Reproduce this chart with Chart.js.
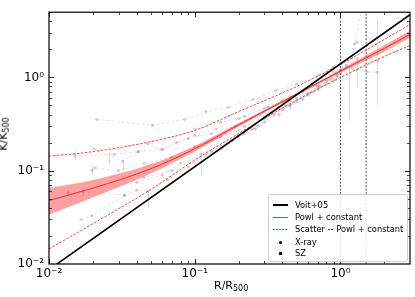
<!DOCTYPE html>
<html>
<head>
<meta charset="utf-8">
<script src="https://cdn.jsdelivr.net/npm/chart.js@4"></script>
<style>
  body { margin: 0; background: #fff; font-family: "DejaVu Sans", sans-serif; }
  #wrap { position: relative; width: 415px; height: 297px; }
  #chart { position: absolute; left: 0; top: 0; }
  .ttl { position: absolute; font-size: 11px; color: #000; white-space: nowrap; }
  .ttl sub { font-size: 8px; vertical-align: -2px; }
  #ytitle { left: -13px; top: 127px; transform: rotate(-90deg); }
  #xtitle { left: 214px; top: 279px; }
  #legend { position: absolute; left: 268px; top: 194px; width: 138px; height: 66px;
            border: 1px solid #d0d0d0; border-radius: 3px; background: rgba(255,255,255,0.85);
            font-size: 8.3px; }
  .row { position: absolute; left: 0; height: 12px; width: 100%; }
  .row span.txt { position: absolute; left: 26px; top: 1px; }
  .sample { position: absolute; left: 4px; top: 6px; width: 15px; height: 1px; }
  .mk { position: absolute; }
</style>
</head>
<body>
<div id="wrap">
  <canvas id="chart" width="415" height="297"></canvas>
  <div class="ttl" id="ytitle">K/K<sub>500</sub></div>
  <div class="ttl" id="xtitle">R/R<sub>500</sub></div>
  <div id="legend">
    <div class="row" style="top:4px"><div class="sample" style="height:2px;background:#000;top:5px"></div><span class="txt">Voit+05</span></div>
    <div class="row" style="top:16px"><div class="sample" style="background:#ff2a2a"></div><span class="txt">Powl + constant</span></div>
    <div class="row" style="top:28px"><div class="sample" style="background:repeating-linear-gradient(90deg,#ff2a2a 0 2px,transparent 2px 3px)"></div><span class="txt">Scatter -- Powl + constant</span></div>
    <div class="row" style="top:41px"><div class="mk" style="left:10px;top:5px;width:3px;height:3px;border-radius:50%;background:#000"></div><span class="txt">X-ray</span></div>
    <div class="row" style="top:52px"><div class="mk" style="left:10px;top:5px;width:3px;height:3px;background:#000"></div><span class="txt">SZ</span></div>
  </div>
</div>
<script>
// ── Axis ticks ────────────────────────────────────────────────────────────
const xMajor = [0.01, 0.1, 1];
const xMinor = [0.02,0.03,0.04,0.05,0.06,0.07,0.08,0.09,0.2,0.3,0.4,0.5,0.6,0.7,0.8,0.9,2,3];
const yMajor = [0.01, 0.1, 1];
const yMinor = [0.02,0.03,0.04,0.05,0.06,0.07,0.08,0.09,0.2,0.3,0.4,0.5,0.6,0.7,0.8,0.9,2,3,4,5];
const tickText = { 0.01: '10⁻²', 0.1: '10⁻¹', 1: '10⁰' };

// ── Model curves ──────────────────────────────────────────────────────────
const fitX      = [0.01, 0.02, 0.05, 0.1, 0.2, 0.5, 1, 2, 3];
const fitMid    = [0.048, 0.065, 0.105, 0.172, 0.31, 0.66, 1.17, 2.05, 2.9];
const fitBandLo = [0.034, 0.052, 0.094, 0.162, 0.298, 0.645, 1.13, 1.9, 2.68];
const fitBandHi = [0.065, 0.079, 0.117, 0.183, 0.322, 0.675, 1.21, 2.2, 3.15];
const scatHi    = [0.143, 0.16, 0.205, 0.27, 0.43, 0.8, 1.38, 2.55, 3.7];
const scatLo    = [0.0145, 0.027, 0.063, 0.13, 0.25, 0.57, 1.0, 1.68, 2.2];
const voitX = [0.01, 3];
const voitY = [0.0087, 4.7];
const vlineX = [1, 1.5];

// ── Individual cluster profiles (grey) ────────────────────────────────────
const profiles = [
  { kind: 'xray', x: [0.0213,0.0515,0.0855,0.119,0.17,0.25,0.36,0.5,0.7,0.9],
    y: [0.355,0.307,0.355,0.43,0.48,0.58,0.72,0.85,1.05,1.3] },
  { kind: 'xray', x: [0.015,0.028,0.041,0.0476,0.0595,0.075,0.1,0.14,0.2,0.3,0.45,0.65,0.9],
    y: [0.146,0.15,0.16,0.194,0.168,0.2,0.24,0.28,0.36,0.47,0.62,0.85,1.15] },
  { kind: 'xray', x: [0.0203,0.032,0.041,0.06,0.09,0.13,0.19,0.28,0.4,0.55,0.8,1.0],
    y: [0.172,0.126,0.16,0.17,0.22,0.25,0.3,0.4,0.55,0.7,0.95,1.2] },
  { kind: 'xray', x: [0.0197,0.0207,0.03,0.045,0.07,0.1,0.15,0.22,0.33,0.5,0.72,0.95],
    y: [0.101,0.107,0.1,0.12,0.14,0.18,0.23,0.3,0.42,0.6,0.8,1.05] },
  { kind: 'xray', x: [0.0135,0.017,0.033,0.045,0.07,0.11,0.17,0.26,0.38,0.55,0.8],
    y: [0.058,0.0595,0.055,0.085,0.1,0.15,0.2,0.28,0.4,0.58,0.85] },
  { kind: 'xray', x: [0.0166,0.0197,0.033,0.04,0.0476,0.065,0.09,0.13,0.2,0.3,0.45,0.7,1.0,1.3],
    y: [0.030,0.033,0.054,0.062,0.06,0.08,0.11,0.16,0.24,0.33,0.5,0.8,1.1,1.6] },
  { kind: 'xray', x: [0.04,0.06,0.08,0.12,0.18,0.27,0.4,0.6,0.85,1.1,1.3],
    y: [0.075,0.09,0.12,0.15,0.21,0.3,0.45,0.65,0.95,1.3,2.4] },
  { kind: 'xray', x: [0.1,0.15,0.22,0.32,0.47,0.68,0.95,1.2,1.52,1.79],
    y: [0.28,0.33,0.38,0.48,0.62,0.82,1.05,1.25,1.15,1.13] },
  { kind: 'sz', x: [0.12,0.2,0.3,0.45,0.65,0.9,1.3,1.8,2.4],
    y: [0.2,0.27,0.38,0.5,0.7,0.9,1.2,1.5,1.9] },
  { kind: 'xray', x: [0.25,0.35,0.5,0.7,0.9,1.1,1.25,1.4],
    y: [0.28,0.4,0.55,0.75,0.95,1.35,2.3,5.5] },
  { kind: 'xray', x: [0.15,0.22,0.3,0.42,0.6,0.8,1.0,1.2],
    y: [0.17,0.25,0.36,0.5,0.68,0.9,1.2,1.6] },
];

// ── Error bars (x, low, high) ─────────────────────────────────────────────
const errX  = [0.015, 0.0197, 0.0135, 0.017, 0.0476, 0.026, 0.032, 0.11, 0.45, 0.7, 1.15, 1.3, 1.79];
const errLo = [0.13, 0.09, 0.054, 0.054, 0.04, 0.12, 0.1, 0.09, 0.45, 0.7, 0.34, 0.8, 0.51];
const errHi = [0.165, 0.114, 0.062, 0.066, 0.063, 0.16, 0.135, 0.16, 0.6, 0.9, 1.33, 1.6, 4.1];

const RED = '#ff2a2a';
const GREY_PT = 'rgba(135,135,135,0.35)';
const GREY_LN = 'rgba(150,150,150,0.3)';

const xy = (xs, ys) => xs.map((x, i) => ({ x, y: ys[i] }));
const smooth = { cubicInterpolationMode: 'monotone', pointRadius: 0 };

const datasets = [
  { data: xy(voitX, voitY), borderColor: '#000', borderWidth: 1.6, pointRadius: 0, order: 0 },
  { data: xy(fitX, fitMid), borderColor: RED, borderWidth: 1, ...smooth, order: 1 },
  { data: xy(fitX, scatHi), borderColor: RED, borderWidth: 0.9, borderDash: [2.5, 1.5], ...smooth, order: 1 },
  { data: xy(fitX, scatLo), borderColor: RED, borderWidth: 0.9, borderDash: [2.5, 1.5], ...smooth, order: 1 },
  { data: xy(fitX, fitBandHi), borderColor: 'rgba(255,60,60,0.25)', borderWidth: 0.5, ...smooth, order: 2 },
  { data: xy(fitX, fitBandLo), borderColor: 'rgba(255,60,60,0.25)', borderWidth: 0.5, ...smooth,
    fill: '-1', backgroundColor: 'rgba(255,30,30,0.42)', order: 2 },
];
vlineX.forEach(v => datasets.push({
  data: [{ x: v, y: 0.005 }, { x: v, y: 10 }], borderColor: '#555', borderWidth: 1,
  borderDash: [2, 1.5], pointRadius: 0, order: 3,
}));
profiles.forEach(p => datasets.push({
  data: xy(p.x, p.y), borderColor: GREY_LN, borderWidth: 0.8, borderDash: [3, 2],
  pointRadius: 1.6, pointStyle: p.kind === 'sz' ? 'rect' : 'circle',
  pointBackgroundColor: GREY_PT, pointBorderColor: GREY_PT, pointBorderWidth: 0, order: 5,
}));
datasets.forEach(d => { d.clip = 0; if (d.fill === undefined) d.fill = false; });

// ── Plugins: error bars & inward ticks on all sides ───────────────────────
const errorBars = {
  id: 'errorBars',
  beforeDatasetsDraw(chart) {
    const { ctx, chartArea: a, scales: { x, y } } = chart;
    ctx.save();
    ctx.beginPath(); ctx.rect(a.left, a.top, a.right - a.left, a.bottom - a.top); ctx.clip();
    ctx.strokeStyle = 'rgba(150,150,150,0.4)'; ctx.lineWidth = 0.8;
    errX.forEach((v, i) => {
      const px = Math.round(x.getPixelForValue(v)) + 0.5;
      ctx.beginPath();
      ctx.moveTo(px, y.getPixelForValue(errLo[i]));
      ctx.lineTo(px, y.getPixelForValue(errHi[i]));
      ctx.stroke();
    });
    ctx.restore();
  }
};

const inTicks = {
  id: 'inTicks',
  afterDraw(chart) {
    const { ctx, chartArea: a, scales: { x, y } } = chart;
    ctx.save();
    ctx.strokeStyle = '#000';
    const markX = (vals, len, lw) => {
      ctx.lineWidth = lw;
      vals.forEach(v => {
        const px = Math.round(x.getPixelForValue(v)) + 0.5;
        if (px < a.left || px > a.right) return;
        ctx.beginPath();
        ctx.moveTo(px, a.bottom); ctx.lineTo(px, a.bottom - len);
        ctx.moveTo(px, a.top); ctx.lineTo(px, a.top + len);
        ctx.stroke();
      });
    };
    const markY = (vals, len, lw) => {
      ctx.lineWidth = lw;
      vals.forEach(v => {
        const py = Math.round(y.getPixelForValue(v)) + 0.5;
        if (py < a.top || py > a.bottom) return;
        ctx.beginPath();
        ctx.moveTo(a.left, py); ctx.lineTo(a.left + len, py);
        ctx.moveTo(a.right, py); ctx.lineTo(a.right - len, py);
        ctx.stroke();
      });
    };
    markX(xMajor, 5, 0.9); markX(xMinor, 3, 0.7);
    markY(yMajor, 5, 0.9); markY(yMinor, 3, 0.7);
    ctx.lineWidth = 1.2;
    ctx.strokeRect(a.left, a.top, a.right - a.left, a.bottom - a.top);
    ctx.restore();
  }
};

const tickFont = { family: 'DejaVu Sans', size: 12 };

new Chart(document.getElementById('chart').getContext('2d'), {
  type: 'line',
  data: { datasets },
  plugins: [errorBars, inTicks],
  options: {
    responsive: false,
    animation: false,
    events: [],
    layout: { padding: { left: 0, right: 5, top: 4, bottom: 0 } },
    plugins: { legend: { display: false }, tooltip: { enabled: false } },
    elements: { line: { borderCapStyle: 'butt' } },
    scales: {
      x: {
        type: 'logarithmic', min: 0.01, max: 3,
        grid: { display: false, drawTicks: false },
        border: { display: false },
        afterBuildTicks: s => { s.ticks = xMajor.map(v => ({ value: v })); },
        afterFit: s => { s.height = 33; },
        ticks: { color: '#000', font: tickFont, padding: 3, maxRotation: 0, autoSkip: false,
                 callback: v => tickText[v] || '' },
      },
      y: {
        type: 'logarithmic', min: 0.01, max: 5,
        grid: { display: false, drawTicks: false },
        border: { display: false },
        afterBuildTicks: s => { s.ticks = yMajor.map(v => ({ value: v })); },
        afterFit: s => { s.width = 49; },
        ticks: { color: '#000', font: tickFont, padding: 5, autoSkip: false,
                 callback: v => tickText[v] || '' },
      },
    },
  },
});
</script>
</body>
</html>
